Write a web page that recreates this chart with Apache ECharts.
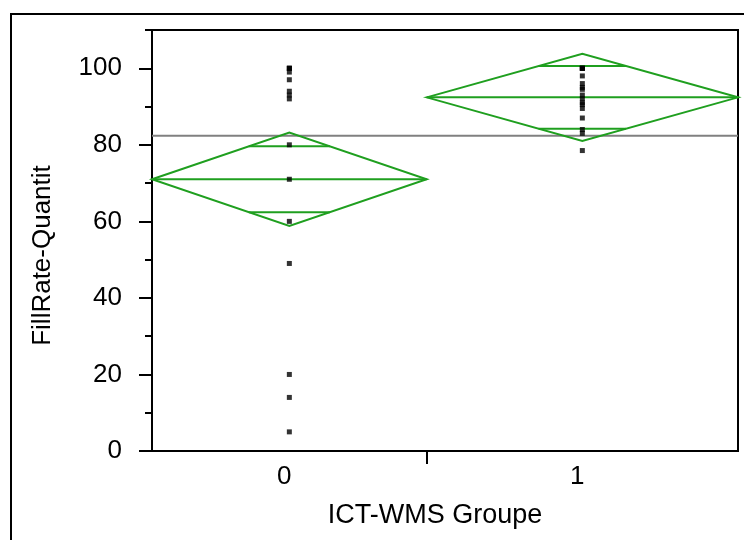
<!DOCTYPE html>
<html>
<head>
<meta charset="utf-8">
<script src="https://cdn.jsdelivr.net/npm/echarts@6/dist/echarts.min.js"></script>
<style>html,body{margin:0;padding:0;background:#fff;}#chart{width:744px;height:540px;}</style>
</head>
<body>
<div id="chart"></div>
<script>
// ---- data ----
const groupLabels = ['0', '1'];
const groupCounts = [15, 17];
const group0Values = [100, 100, 100, 99, 97, 94, 93, 92, 80, 71, 60, 49, 20, 14, 5];
const group1Values = [100, 100, 100, 100, 98, 96, 95, 94.5, 93, 92, 91, 90.5, 89.5, 87, 84, 83, 78.5];
const groupMeans = [71.0, 92.4];
const ciLower = [58.8, 81.0];
const ciUpper = [83.2, 103.8];
const overlapLower = [62.4, 84.2];
const overlapUpper = [79.6, 100.6];
const grandMean = 82.4;
const yMin = 0, yMax = 110, yMajor = 20, yMinor = 10;
const xTitle = 'ICT-WMS Groupe';
const yTitle = 'FillRate-Quantit';

// ---- derived layout in data units ----
const totalN = groupCounts.reduce((a, b) => a + b, 0);
const starts = [], ends = [], centers = [];
let acc = 0;
groupCounts.forEach((n) => { starts.push(acc); ends.push(acc + n); centers.push(acc + n / 2); acc += n; });
const boundaries = ends.slice(0, -1);

const diamondData = groupLabels.map((g, i) => [starts[i], ends[i], groupMeans[i], ciLower[i], ciUpper[i], overlapLower[i], overlapUpper[i]]);
const pointData = [];
[group0Values, group1Values].forEach((vals, i) => vals.forEach(v => pointData.push([centers[i], v])));

const GREEN = '#1f9f1f';
const FONT = 'Liberation Sans, Arial, Helvetica, sans-serif';

function renderDiamond(params, api) {
  const x0 = api.value(0), x1 = api.value(1), m = api.value(2), lo = api.value(3), hi = api.value(4), olo = api.value(5), ohi = api.value(6);
  const xc = (x0 + x1) / 2, hw = (x1 - x0) / 2;
  const pL = api.coord([x0, m]), pR = api.coord([x1, m]), pT = api.coord([xc, hi]), pB = api.coord([xc, lo]);
  const style = { stroke: GREEN, lineWidth: 2, fill: 'none' };
  const seg = (v, half) => {
    const frac = 1 - Math.abs(v - m) / half;
    const a = api.coord([xc - hw * frac, v]), b = api.coord([xc + hw * frac, v]);
    return { type: 'line', shape: { x1: a[0], y1: a[1], x2: b[0], y2: b[1] }, style: style };
  };
  return {
    type: 'group',
    children: [
      { type: 'polygon', shape: { points: [pL, pT, pR, pB] }, style: style },
      { type: 'line', shape: { x1: pL[0], y1: pL[1], x2: pR[0], y2: pR[1] }, style: style },
      seg(ohi, hi - m),
      seg(olo, m - lo)
    ]
  };
}

const chart = echarts.init(document.getElementById('chart'), null, { renderer: 'canvas' });
chart.setOption({
  animation: false,
  backgroundColor: '#fff',
  textStyle: { fontFamily: FONT },
  graphic: [{
    type: 'rect', shape: { x: 11, y: 14, width: 780, height: 580 },
    style: { fill: 'none', stroke: '#000', lineWidth: 2 }, silent: true, z: 100
  }],
  grid: { left: 152, right: 6, top: 30, bottom: 89, show: true, borderColor: '#000', borderWidth: 2, backgroundColor: 'transparent' },
  xAxis: {
    type: 'value', min: 0, max: totalN,
    name: xTitle, nameLocation: 'middle', nameGap: 51,
    nameTextStyle: { fontSize: 27, color: '#000', fontFamily: FONT, padding: [0, 20, 0, 0] },
    axisLine: { show: true, lineStyle: { color: '#000', width: 2 } },
    axisTick: { show: true, length: 13, lineStyle: { color: '#000', width: 2 }, customValues: boundaries },
    axisLabel: { show: true, fontSize: 26, color: '#000', margin: 13, customValues: centers, padding: [0, 10, 0, 0],
      formatter: (v) => { const i = centers.findIndex(c => Math.abs(c - v) < 1e-6); return i >= 0 ? groupLabels[i] : ''; } },
    splitLine: { show: false }
  },
  yAxis: [{
    type: 'value', min: yMin, max: yMax, interval: yMajor, position: 'left',
    name: yTitle, nameLocation: 'middle', nameGap: 96,
    nameTextStyle: { fontSize: 26, color: '#000', fontFamily: FONT, padding: [0, 30, 0, 0] },
    axisLine: { show: true, lineStyle: { color: '#000', width: 2 } },
    axisTick: { show: true, length: 13, lineStyle: { color: '#000', width: 2 } },
    axisLabel: { fontSize: 26, color: '#000', margin: 30, showMaxLabel: false,
      formatter: (v) => (v % yMajor === 0 ? String(v) : '') },
    splitLine: { show: false }
  }, {
    type: 'value', min: yMin, max: yMax, interval: yMinor, position: 'left',
    axisLine: { show: false },
    axisTick: { show: true, length: 7, lineStyle: { color: '#000', width: 2 } },
    axisLabel: { show: false },
    splitLine: { show: false }
  }],
  series: [{
    type: 'line', data: [[0, grandMean], [totalN, grandMean]], symbol: 'none',
    lineStyle: { color: '#808080', width: 2 }, z: 1, silent: true
  }, {
    type: 'custom', renderItem: renderDiamond, data: diamondData,
    encode: { x: [0, 1], y: [2, 3, 4] }, z: 2, silent: true
  }, {
    type: 'scatter', data: pointData, symbol: 'rect', symbolSize: [5, 5],
    itemStyle: { color: '#000' }, z: 3, silent: true
  }]
});
</script>
</body>
</html>
